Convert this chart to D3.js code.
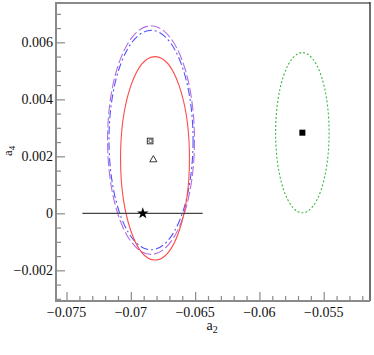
<!DOCTYPE html>
<html>
<head>
<meta charset="utf-8">
<script src="https://cdn.jsdelivr.net/npm/d3@7"></script>
<style>
  html, body { margin: 0; padding: 0; background: #fff; }
</style>
</head>
<body>
<svg id="chart" width="374" height="355"></svg>
<script>
// ---------------- data ----------------
const xDomain = [-0.07582, -0.0514];
const yDomain = [-0.003076, 0.00738];
const xMajorTicks = [-0.075, -0.07, -0.065, -0.06, -0.055];
const xTickLabels = ["\u22120.075", "\u22120.07", "\u22120.065", "\u22120.06", "\u22120.055"];
const yMajorTicks = [-0.002, 0, 0.002, 0.004, 0.006];
const yTickLabels = ["\u22120.002", "0", "0.002", "0.004", "0.006"];

// ellipses: name, centre, semi-axes
const ellipseNames = ["purple", "blue", "red", "green"];
const ellipseCx = [-0.06843, -0.06843, -0.06812, -0.05666];
const ellipseCy = [0.00257, 0.00257, 0.00193, 0.00283];
const ellipseRx = [0.00338, 0.00327, 0.00268, 0.00208];
const ellipseRy = [0.00401, 0.00385, 0.00357, 0.00281];
const ellipseColors = ["#b46ee0", "#4d55ff", "#ff4a4a", "#3cb83c"];
const ellipseDash = ["10,3", "8,3,2,3", null, "2,2"];

// points
const starPoint = [-0.06907, 0];
const starErrX = [-0.07377, -0.06441];
const openSquare = [-0.06850, 0.002537];
const openTriangle = [-0.06825, 0.00188];
const filledSquare = [-0.05666, 0.00283];

// ---------------- chart ----------------
const FONT = "'Liberation Serif', 'Times New Roman', serif";
const svg = d3.select("#chart");
const L = 56, R = 370, T = 3, B = 301;
const x = d3.scaleLinear().domain(xDomain).range([L, R]);
const y = d3.scaleLinear().domain(yDomain).range([B, T]);

// ellipses
const ell = ellipseNames.map((n, i) => ({
  n, cx: ellipseCx[i], cy: ellipseCy[i], rx: ellipseRx[i], ry: ellipseRy[i],
  c: ellipseColors[i], d: ellipseDash[i]
}));
svg.append("g").selectAll("ellipse").data(ell).join("ellipse")
  .attr("cx", d => x(d.cx))
  .attr("cy", d => y(d.cy))
  .attr("rx", d => x(d.cx + d.rx) - x(d.cx))
  .attr("ry", d => y(d.cy) - y(d.cy + d.ry))
  .attr("fill", "none")
  .attr("stroke", d => d.c)
  .attr("stroke-width", 1.1)
  .attr("stroke-dasharray", d => d.d);

// horizontal error line through star
svg.append("line")
  .attr("x1", x(starErrX[0])).attr("x2", x(starErrX[1]))
  .attr("y1", y(starPoint[1])).attr("y2", y(starPoint[1]))
  .attr("stroke", "#444").attr("stroke-width", 1.1);

// star
svg.append("path")
  .attr("d", d3.symbol().type(d3.symbolStar).size(42)())
  .attr("transform", `translate(${x(starPoint[0])},${y(starPoint[1])})`)
  .attr("fill", "#000");

// open square with inner circle
svg.append("rect")
  .attr("x", x(openSquare[0]) - 2.8).attr("y", y(openSquare[1]) - 2.8)
  .attr("width", 5.6).attr("height", 5.6)
  .attr("fill", "none").attr("stroke", "#333").attr("stroke-width", 1);
svg.append("circle")
  .attr("cx", x(openSquare[0]) + 0.4).attr("cy", y(openSquare[1]))
  .attr("r", 1.7)
  .attr("fill", "none").attr("stroke", "#555").attr("stroke-width", 1);

// open triangle
svg.append("path")
  .attr("d", d3.symbol().type(d3.symbolTriangle).size(22)())
  .attr("transform", `translate(${x(openTriangle[0])},${y(openTriangle[1])})`)
  .attr("fill", "none").attr("stroke", "#222").attr("stroke-width", 0.9);

// filled square
svg.append("rect")
  .attr("x", x(filledSquare[0]) - 3).attr("y", y(filledSquare[1]) - 3)
  .attr("width", 6).attr("height", 6)
  .attr("fill", "#000");

// ---------------- axes / frame ----------------
const axisColor = "#8a8a8a";
svg.append("line").attr("x1", L).attr("x2", R).attr("y1", T).attr("y2", T)
  .attr("stroke", axisColor).attr("stroke-width", 2);
svg.append("line").attr("x1", R).attr("x2", R).attr("y1", T - 1).attr("y2", B)
  .attr("stroke", "#222").attr("stroke-width", 1.3);

const xMinor = d3.range(-0.075, -0.0514, 0.001).filter(v => !xMajorTicks.some(m => Math.abs(m - v) < 1e-9));
const yMinor = d3.range(-0.003, 0.0074, 0.0005).filter(v => !yMajorTicks.some(m => Math.abs(m - v) < 1e-9));

const xAxisMinor = d3.axisTop(x).tickValues(xMinor).tickSize(5).tickFormat("");
const xAxisMajor = d3.axisTop(x).tickValues(xMajorTicks).tickSize(9).tickFormat("");
const yAxisMinor = d3.axisRight(y).tickValues(yMinor).tickSize(5).tickFormat("");
const yAxisMajor = d3.axisRight(y).tickValues(yMajorTicks).tickSize(9).tickFormat("");

function styleAxis(g) {
  g.select(".domain").remove();
  g.selectAll(".tick line").attr("stroke", axisColor).attr("stroke-width", 1.2);
}
svg.append("g").attr("transform", `translate(0,${B})`).call(xAxisMinor).call(styleAxis);
svg.append("g").attr("transform", `translate(0,${B})`).call(xAxisMajor).call(styleAxis);
svg.append("g").attr("transform", `translate(${L},0)`).call(yAxisMinor).call(styleAxis);
svg.append("g").attr("transform", `translate(${L},0)`).call(yAxisMajor).call(styleAxis);

svg.append("line").attr("x1", L).attr("x2", R).attr("y1", B).attr("y2", B)
  .attr("stroke", axisColor).attr("stroke-width", 2);
svg.append("line").attr("x1", L).attr("x2", L).attr("y1", T - 1).attr("y2", B + 1)
  .attr("stroke", axisColor).attr("stroke-width", 2);

// tick labels
svg.append("g").selectAll("text").data(xMajorTicks).join("text")
  .attr("x", d => x(d)).attr("y", B + 15.5)
  .attr("text-anchor", "middle")
  .attr("font-family", FONT)
  .attr("font-size", 14).attr("fill", "#111")
  .text((d, i) => xTickLabels[i]);
svg.append("g").selectAll("text").data(yMajorTicks).join("text")
  .attr("x", L - 3).attr("y", d => y(d) + 4.8)
  .attr("text-anchor", "end")
  .attr("font-family", FONT)
  .attr("font-size", 14).attr("fill", "#111")
  .text((d, i) => yTickLabels[i]);

// axis titles
const xt = svg.append("text").attr("x", 206.5).attr("y", 330)
  .attr("font-family", FONT)
  .attr("font-size", 14).attr("fill", "#111");
xt.append("tspan").text("a");
xt.append("tspan").attr("font-size", 10).attr("dy", 3).text("2");

const yt = svg.append("text")
  .attr("transform", "translate(12,156) rotate(-90)")
  .attr("font-family", FONT)
  .attr("font-size", 13).attr("fill", "#111");
yt.append("tspan").text("a");
yt.append("tspan").attr("font-size", 9).attr("dy", 3).text("4");
</script>
</body>
</html>
